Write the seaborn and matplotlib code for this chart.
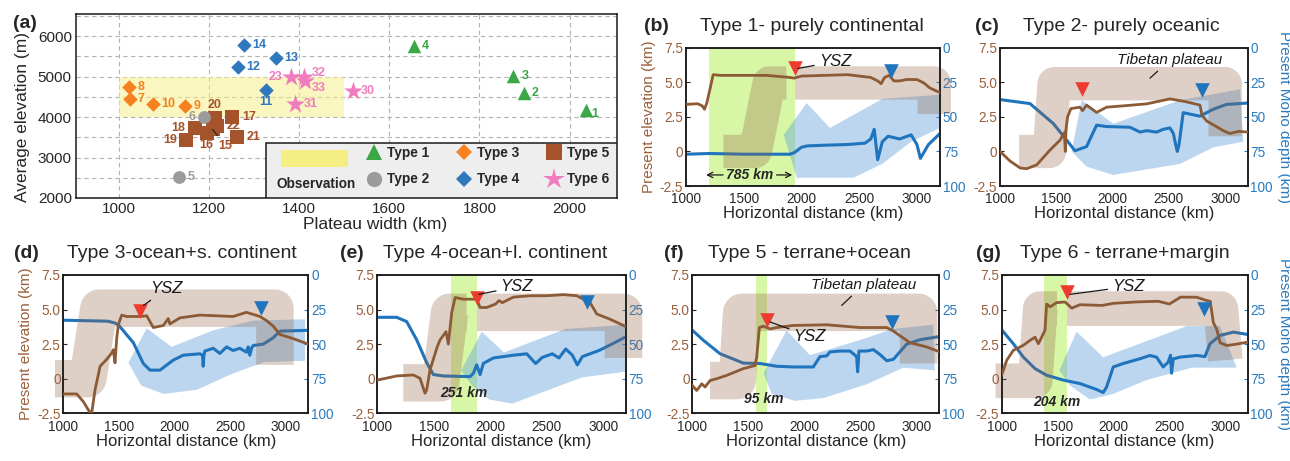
import matplotlib
matplotlib.use("Agg")
import matplotlib.pyplot as plt
import pandas as pd
import seaborn as sns
from matplotlib.lines import Line2D
from matplotlib.patches import Rectangle
from matplotlib.path import Path
from matplotlib import font_manager as fm

# ======================= Panel (a) data =======================
TYPE_NAMES = ["Type 1", "Type 2", "Type 3", "Type 4", "Type 5", "Type 6"]
T1_ID = [1, 2, 3, 4]
T1_W = [2036, 1898, 1875, 1654]
T1_H = [4186, 4600, 5010, 5770]
T2_ID = [5, 6]
T2_W = [1134, 1189]
T2_H = [2520, 4005]
T3_ID = [7, 8, 9, 10]
T3_W = [1024, 1023, 1147, 1075]
T3_H = [4450, 4748, 4285, 4327]
T4_ID = [11, 12, 13, 14]
T4_W = [1326, 1265, 1349, 1278]
T4_H = [4680, 5233, 5465, 5777]
T5_ID = [15, 16, 17, 18, 19, 20, 21, 22]
T5_W = [1208, 1195, 1252, 1169, 1150, 1213, 1262, 1217]
T5_H = [3700, 3609, 4005, 3733, 3443, 3980, 3510, 3790]
T6_ID = [23, 30, 31, 32, 33]
T6_W = [1382, 1519, 1391, 1410, 1413]
T6_H = [4985, 4640, 4334, 4995, 4890]
OBS_WIDTH = [1000, 1500]
OBS_ELEV = [4000, 5000]

# ======================= Profile data =======================
# (b) Type 1
B_ELEV_X = [1000, 1100, 1140, 1160, 1180, 1210, 1235, 1300, 1500, 1700, 1900, 1935, 2000, 2200, 2400, 2500,
            2600, 2660, 2690, 2720, 2760, 2800, 2850, 2910, 3000, 3060, 3110, 3200]
B_ELEV_Y = [3.4, 3.45, 3.3, 3.05, 3.5, 4.6, 5.55, 5.5, 5.5, 5.5, 5.35, 5.3, 5.45, 5.5, 5.55, 5.45,
            5.35, 5.1, 4.9, 5.35, 5.5, 5.1, 5.1, 5.2, 5.2, 4.95, 4.6, 4.25]
B_MOHO_X = [1000, 1200, 1500, 1700, 1900, 1935, 2000, 2050, 2200, 2400, 2550, 2600, 2630, 2660, 2700,
            2750, 2850, 2950, 3000, 3030, 3100, 3200]
B_MOHO_D = [77, 76.5, 77, 77, 77, 76, 72, 71, 70.5, 70, 69, 66, 59, 81, 68, 64, 66, 63, 70, 80, 70, 62]
B_PLAT_X = [1323, 1600, 1720, 3150, 3150]
B_PLAT_Y = [0.0, 0.0, 4.95, 4.95, 2.7]
B_ENV_X = [1846, 2045, 2247, 2700, 3200, 3200, 2950, 2700, 2450, 1959]
B_ENV_D = [63, 40, 58, 37, 34, 58, 68, 84, 94, 94]
B_STRIP = [1202, 1944]
B_YSZ = [1944, 6.0]
B_BTRI = [2778, 5.8]

# (c) Type 2
C_ELEV_X = [1000, 1090, 1180, 1237, 1326, 1444, 1533, 1572, 1580, 1585, 1600, 1630, 1710, 1733, 1769,
            1858, 1947, 2100, 2302, 2509, 2650, 2776, 2795, 2836, 2900, 2983, 3042, 3120, 3200]
C_ELEV_Y = [0.0, -0.7, -1.2, -1.25, -0.97, 0.1, 0.82, 1.35, 0.0, 1.5, 2.5, 3.1, 3.2, 2.95, 3.35,
            2.82, 3.2, 3.3, 3.44, 3.8, 3.6, 3.35, 2.6, 2.2, 1.9, 1.5, 1.3, 1.45, 1.4]
C_MOHO_X = [1000, 1266, 1473, 1592, 1666, 1769, 1858, 1947, 2154, 2243, 2302, 2391, 2450, 2509, 2540,
            2560, 2575, 2590, 2627, 2776, 2894, 3012, 3200]
C_MOHO_D = [37.5, 40.4, 54.8, 66.8, 74.5, 71.5, 56, 57, 57.5, 61, 60, 61, 59, 58, 62, 70, 75, 70, 47,
            49.5, 44.5, 41, 40]
C_PLAT_X = [1170, 1440, 1480, 3000, 3000]
C_PLAT_Y = [0.0, 0.0, 4.9, 4.9, 1.1]
C_ENV_X = [1636, 1726, 2006, 2600, 3132, 3160, 2895, 2600, 2006, 1769]
C_ENV_D = [75, 38, 55, 38, 30, 68, 72, 84, 92, 86]
C_YSZ = [1726, 4.5]
C_BTRI = [2790, 4.45]

# (d) Type 3
D_ELEV_X = [1000, 1120, 1180, 1234, 1255, 1285, 1330, 1389, 1434, 1449, 1464, 1479, 1494, 1524, 1569,
            1689, 1749, 1808, 1898, 1942, 1957, 2047, 2226, 2525, 2645, 2765, 2825, 2885, 2945, 3064, 3200]
D_ELEV_Y = [-1.1, -1.1, -1.66, -2.38, -2.45, -0.8, 0.9, 1.4, 1.85, 2.1, 1.15, 2.9, 3.9, 4.6, 4.5,
            4.5, 4.55, 3.7, 3.85, 4.35, 3.96, 4.4, 4.6, 4.5, 4.8, 4.5, 4.2, 3.8, 3.2, 2.9, 2.5]
D_MOHO_X = [1000, 1397, 1459, 1494, 1629, 1718, 1778, 1868, 1988, 2077, 2226, 2250, 2256, 2262, 2271,
            2346, 2406, 2466, 2525, 2585, 2645, 2660, 2675, 2690, 2705, 2795, 2885, 2945, 3200]
D_MOHO_D = [32.7, 33.4, 34.6, 36, 49, 64, 68.8, 68.8, 61.5, 58, 57, 58, 66, 58, 55, 53, 56.7, 52,
            54.6, 53, 55.8, 52, 58, 53, 51, 50, 45.4, 40.6, 40]
D_PLAT_X = [925, 1220, 1320, 2900, 2900]
D_PLAT_Y = [0.0, 0.0, 5.1, 5.1, 1.0]
D_ENV_X = [1584, 1749, 1972, 2346, 2705, 3170, 3170, 2800, 2500, 2200, 1900, 1700]
D_ENV_D = [63.5, 38.5, 52, 40, 33, 32, 62, 63, 72, 83, 86, 80]
D_YSZ = [1691, 4.92]
D_BTRI = [2772, 5.1]

# (e) Type 4
E_ELEV_X = [1000, 1172, 1319, 1378, 1422, 1437, 1467, 1531, 1555, 1608, 1629, 1659, 1689, 1762, 1880,
            1910, 1968, 2048, 2077, 2107, 2205, 2353, 2500, 2648, 2766, 2884, 2943, 3061, 3193]
E_ELEV_Y = [-0.1, 0.2, 0.27, 0.03, -1.05, -0.8, 0.65, 2.32, 2.8, 3.4, 2.5, 4.8, 5.87, 5.75, 5.75,
            5.15, 5.15, 5.4, 5.65, 5.5, 5.9, 6.0, 6.0, 6.08, 6.0, 5.5, 4.68, 4.3, 3.8]
E_MOHO_X = [1000, 1172, 1260, 1349, 1437, 1496, 1585, 1821, 1851, 1880, 1910, 1939, 2028, 2205, 2323,
            2402, 2461, 2549, 2609, 2668, 2727, 2771, 2816, 2963, 3110, 3193]
E_MOHO_D = [30.6, 30.6, 33.7, 47, 63.4, 72, 73, 73.5, 71, 65, 72, 63.9, 60, 58, 57, 64, 59.6, 57, 60,
            53.5, 58, 65, 59, 54.6, 48.6, 45]
E_PLAT_X = [1230, 1560, 1640, 3180, 3180]
E_PLAT_Y = [-0.3, -0.3, 4.8, 4.8, 1.5]
E_ENV_X = [1742, 1925, 2122, 2668, 3193, 3193, 2816, 2520, 2195, 1990, 1840]
E_ENV_D = [69, 41, 56, 39, 36, 70, 74, 83, 93, 90, 80]
E_STRIP = [1650, 1880]
E_YSZ = [1880, 5.82]
E_BTRI = [2860, 5.57]

# (f) Type 5
F_ELEV_X = [1000, 1039, 1084, 1113, 1158, 1217, 1306, 1454, 1558, 1573, 1597, 1632, 1692, 1751, 1899,
            2196, 2493, 2731, 2790, 2850, 2939, 3087, 3200]
F_ELEV_Y = [-0.49, -0.85, -0.37, -0.6, -0.13, 0.0, 0.24, 0.73, 0.95, 1.55, 3.7, 3.8, 3.6, 3.7, 3.85,
            3.9, 3.7, 3.7, 3.45, 3.1, 2.6, 2.3, 1.95]
F_MOHO_X = [1000, 1098, 1246, 1454, 1603, 1751, 1899, 2077, 2137, 2196, 2226, 2315, 2404, 2463, 2472,
            2484, 2552, 2612, 2671, 2731, 2790, 2909, 3028, 3200]
F_MOHO_D = [40, 47.2, 56.9, 63.7, 64, 66, 66.5, 66.5, 59, 58.5, 55.6, 55, 55, 59, 70, 55, 55, 54, 57.5,
            62, 61, 50, 46.8, 44.5]
F_PLAT_X = [1158, 1400, 1440, 3015, 3015]
F_PLAT_Y = [-0.13, -0.13, 4.8, 4.8, 1.1]
F_ENV_X = [1635, 1840, 2048, 2493, 2790, 3146, 3160, 2880, 2553, 2167, 1914, 1706]
F_ENV_D = [71, 40, 58, 47, 39, 36, 69, 67, 79, 89, 91, 86]
F_STRIP = [1567, 1668]
F_YSZ = [1668, 4.28]
F_BTRI = [2781, 4.11]

# (g) Type 6
G_ELEV_X = [1000, 1045, 1104, 1193, 1253, 1298, 1328, 1357, 1387, 1402, 1432, 1492, 1566, 1587, 1626,
            1700, 1900, 2000, 2200, 2400, 2500, 2600, 2744, 2834, 2865, 2893, 2923, 2953, 3013, 3102, 3200]
G_ELEV_Y = [0.26, 1.33, 2.05, 2.41, 2.77, 3.0, 2.53, 3.0, 3.5, 5.4, 5.2, 5.5, 5.55, 5.4, 5.1,
            5.35, 5.3, 5.45, 5.55, 5.6, 5.4, 5.9, 5.89, 5.65, 5.6, 4.05, 3.58, 2.6, 2.4, 2.5, 2.65]
G_MOHO_X = [1000, 1104, 1193, 1298, 1402, 1551, 1700, 1849, 1908, 1938, 1998, 2087, 2236, 2325, 2385,
            2444, 2489, 2510, 2519, 2534, 2593, 2744, 2818, 2863, 2953, 3072, 3200]
G_MOHO_D = [39.6, 49.7, 59.3, 67.7, 72.5, 76, 78.5, 82.8, 85, 81, 66.5, 64, 60.6, 58.2, 59.4, 66.5, 63,
            58, 71, 60.7, 59.4, 58.2, 59, 49.7, 43.7, 41.3, 43]
G_PLAT_X = [945, 1300, 1345, 2960, 3000]
G_PLAT_Y = [-0.15, -0.15, 5.07, 5.07, 1.35]
G_ENV_X = [1516, 1670, 1908, 2654, 2953, 3102, 2700, 2295, 1998, 1789, 1611]
G_ENV_D = [69, 41, 59.5, 37, 37, 67, 67, 76, 86, 90, 80]
G_STRIP = [1381, 1587]
G_YSZ = [1587, 6.25]
G_BTRI = [2810, 5.05]

X_TICKS = [1000, 1500, 2000, 2500, 3000]
ELEV_TICKS = [-2.5, 0, 2.5, 5.0, 7.5]
ELEV_TICKLABELS = ["-2.5", "0", "2.5", "5.0", "7.5"]
MOHO_TICKS = [0, 25, 50, 75, 100]

# ======================= Styling =======================
sns.set_theme(context="paper", style="white")
plt.rcParams["font.family"] = ["Liberation Sans", "DejaVu Sans"]
plt.rcParams["axes.edgecolor"] = "#1a1a1a"
plt.rcParams["axes.linewidth"] = 1.1

try:
    fm.findfont(fm.FontProperties(family="Liberation Sans Narrow"), fallback_to_default=False)
    NARROW, NSIZE = "Liberation Sans Narrow", 11.5
except Exception:
    NARROW, NSIZE = "Liberation Sans", 9.8

BROWN_LINE = "#8c5a35"
BROWN_TXT = "#9b5f3a"
BLUE_LINE = "#1f74bd"
BLUE_TXT = "#2a7bbf"
PLAT_C = "#946448"
PLAT_A = 0.30
ENV_C = "#5d9fd8"
STRIP_C = "#d8f7a6"
RED_TRI = "#ee3b2f"

fig = plt.figure(figsize=(12.9, 4.61), dpi=100)

# ======================= Panel (a) =======================
axa = fig.add_axes([0.0589, 0.5705, 0.4194, 0.3991])
axa.set_xlim(905, 2105)
axa.set_ylim(2000, 6550)
axa.fill_between(OBS_WIDTH, OBS_ELEV[0], OBS_ELEV[1], color="#f7ef8c", alpha=0.55, lw=0, zorder=1)

type_specs = [
    ("Type 5", T5_ID, T5_W, T5_H, "s", "#a5532a", 105, 11.5),
    ("Type 1", T1_ID, T1_W, T1_H, "^", "#3aa845", 95, 11),
    ("Type 2", T2_ID, T2_W, T2_H, "o", "#9b9b9b", 85, 11),
    ("Type 3", T3_ID, T3_W, T3_H, "D", "#f5821f", 55, 8.5),
    ("Type 4", T4_ID, T4_W, T4_H, "D", "#2f78be", 55, 8.5),
    ("Type 6", T6_ID, T6_W, T6_H, "*", "#f07cbf", 200, 16),
]
LABEL_POS = {6: (-6, 0, "right"), 11: (0, -9, "center"), 20: (0, 9, "center"), 18: (-7, 0, "right"),
             19: (-7, 0, "right"), 16: (0, -9, "center"), 15: (9, -12, "center"), 23: (-6, 0, "right"),
             32: (6, 3, "left"), 33: (5, -5, "left"), 1: (4, -3, "left"), 17: (7, 0, "left"),
             21: (7, 0, "left"), 22: (7, 0, "left")}

handles = {}
for name, ids, ws, hs, mk, col, s, ms in type_specs:
    df = pd.DataFrame({"width": ws, "elev": hs, "id": ids})
    sns.scatterplot(data=df, x="width", y="elev", marker=mk, s=s, color=col, linewidth=0,
                    ax=axa, zorder=3, legend=False)
    for i, w, h in zip(ids, ws, hs):
        dx, dy, ha = LABEL_POS.get(i, (6, 0, "left"))
        kw = {}
        if i == 15:
            kw["arrowprops"] = dict(arrowstyle="-", color="#222222", lw=0.8, shrinkA=1, shrinkB=0)
        axa.annotate(str(i), (w, h), xytext=(dx, dy), textcoords="offset points", ha=ha, va="center",
                     fontsize=9, fontweight="bold", color=col, zorder=4, **kw)
    handles[name] = Line2D([], [], ls="", marker=mk, color=col, markersize=ms, markeredgewidth=0)

axa.set_xticks([1000, 1200, 1400, 1600, 1800, 2000])
axa.set_yticks([2000, 3000, 4000, 5000, 6000])
axa.set_yticks([2500, 3500, 4500, 5500, 6500], minor=True)
axa.grid(True, which="both", ls=(0, (4, 3)), color="#b3b3b3", lw=0.8, zorder=0)
axa.set_axisbelow(True)
axa.tick_params(axis="both", which="both", direction="in", labelsize=11, pad=3, length=3)
axa.set_xlabel("Plateau width (km)", fontsize=12.5)
axa.xaxis.set_label_coords(0.553, -0.105)
axa.set_ylabel("Average elevation (m)", fontsize=12.5)
axa.yaxis.set_label_coords(-0.085, 0.44)
axa.text(-0.094, 0.946, "(a)", transform=axa.transAxes, fontsize=14, fontweight="bold",
         ha="center", va="center")

# legend box
axa.add_patch(Rectangle((0.351, 0.0), 0.649, 0.297, transform=axa.transAxes, facecolor="#eeeeee",
                        edgecolor="#1a1a1a", lw=1.1, zorder=6))
axa.add_patch(Rectangle((0.379, 0.170), 0.123, 0.091, transform=axa.transAxes, facecolor="#f5ee82",
                        edgecolor="none", zorder=7))
axa.text(0.37, 0.074, "Observation", transform=axa.transAxes, fontsize=9.8, fontweight="bold",
         va="center", ha="left", zorder=7)
order = ["Type 1", "Type 2", "Type 3", "Type 4", "Type 5", "Type 6"]
leg = axa.legend([handles[k] for k in order], order, ncol=3, loc="upper left",
                 bbox_to_anchor=(0.538, 0.285), frameon=False, prop={"size": 9.8, "weight": "bold"},
                 handlelength=1.0, handletextpad=0.5, columnspacing=2.0, labelspacing=0.95,
                 borderpad=0, borderaxespad=0)
leg.set_zorder(10)

# ======================= Profile panels =======================
panels = [
    dict(rect=[0.5318, 0.5965, 0.1969, 0.300], letter="(b)", title="Type 1- purely continental",
         lx=-0.115, tx=0.055, ex=B_ELEV_X, ey=B_ELEV_Y, mx=B_MOHO_X, md=B_MOHO_D, px=B_PLAT_X, py=B_PLAT_Y,
         vx=B_ENV_X, vd=B_ENV_D, strip=B_STRIP, hide=True, lw=24, ysz=B_YSZ, btri=B_BTRI,
         notes=[("YSZ", 2290, 6.5, 1970, 6.0, 12)], left=True, right=False),
    dict(rect=[0.7752, 0.5965, 0.1920, 0.300], letter="(c)", title="Type 2- purely oceanic",
         lx=-0.052, tx=0.093, ex=C_ELEV_X, ey=C_ELEV_Y, mx=C_MOHO_X, md=C_MOHO_D, px=C_PLAT_X, py=C_PLAT_Y,
         vx=C_ENV_X, vd=C_ENV_D, strip=None, hide=False, lw=24, ysz=C_YSZ, btri=C_BTRI,
         notes=[("Tibetan plateau", 2510, 6.6, 2332, 5.3, 11)], left=False, right=True),
    dict(rect=[0.0491, 0.1035, 0.1899, 0.300], letter="(d)", title="Type 3-ocean+s. continent",
         lx=-0.149, tx=0.014, ex=D_ELEV_X, ey=D_ELEV_Y, mx=D_MOHO_X, md=D_MOHO_D, px=D_PLAT_X, py=D_PLAT_Y,
         vx=D_ENV_X, vd=D_ENV_D, strip=None, hide=False, lw=27, ysz=D_YSZ, btri=D_BTRI,
         notes=[("YSZ", 1928, 6.5, 1720, 5.3, 12)], left=True, right=False),
    dict(rect=[0.2925, 0.1035, 0.1926, 0.300], letter="(e)", title="Type 4-ocean+l. continent",
         lx=-0.103, tx=0.024, ex=E_ELEV_X, ey=E_ELEV_Y, mx=E_MOHO_X, md=E_MOHO_D, px=E_PLAT_X, py=E_PLAT_Y,
         vx=E_ENV_X, vd=E_ENV_D, strip=E_STRIP, hide=True, lw=27, ysz=E_YSZ, btri=E_BTRI,
         notes=[("YSZ", 2235, 6.65, 1900, 6.1, 12)], left=False, right=False),
    dict(rect=[0.5367, 0.1035, 0.1915, 0.300], letter="(f)", title="Type 5 - terrane+ocean",
         lx=-0.077, tx=0.065, ex=F_ELEV_X, ey=F_ELEV_Y, mx=F_MOHO_X, md=F_MOHO_D, px=F_PLAT_X, py=F_PLAT_Y,
         vx=F_ENV_X, vd=F_ENV_D, strip=F_STRIP, hide=False, lw=27, ysz=F_YSZ, btri=F_BTRI,
         notes=[("Tibetan plateau", 2523, 6.77, 2330, 5.3, 11), ("YSZ", 2045, 3.07, 1692, 4.1, 12)],
         left=False, right=False),
    dict(rect=[0.7765, 0.1035, 0.1907, 0.300], letter="(g)", title="Type 6 - terrane+margin",
         lx=-0.052, tx=0.074, ex=G_ELEV_X, ey=G_ELEV_Y, mx=G_MOHO_X, md=G_MOHO_D, px=G_PLAT_X, py=G_PLAT_Y,
         vx=G_ENV_X, vd=G_ENV_D, strip=G_STRIP, hide=True, lw=25, ysz=G_YSZ, btri=G_BTRI,
         notes=[("YSZ", 2133, 6.66, 1611, 6.1, 12)], left=False, right=True),
]
STRIP_LABELS = {"(e)": ("251 km", 1768, -1.05), "(f)": ("95 km", 1632, -1.45), "(g)": ("204 km", 1492, -1.67)}


def rect_path(x0, x1, y0=-20.0, y1=30.0):
    return Path([(x0, y0), (x1, y0), (x1, y1), (x0, y1), (x0, y0)],
                [Path.MOVETO, Path.LINETO, Path.LINETO, Path.LINETO, Path.CLOSEPOLY])


def envelope(ax, xs, ys, lw):
    sns.lineplot(x=xs, y=ys, ax=ax, sort=False, estimator=None, color=PLAT_C, alpha=PLAT_A,
                 linewidth=lw, solid_joinstyle="round", solid_capstyle="butt", clip_on=False, zorder=2)
    return ax.lines[-1]


for p in panels:
    ax = fig.add_axes(p["rect"])
    ax2 = ax.twinx()
    ax.set_zorder(ax2.get_zorder() + 1)
    ax.patch.set_visible(False)
    ax.set_xlim(1000, 3200)
    ax.set_ylim(-2.5, 7.5)
    ax2.set_ylim(100, 0)

    if p["strip"] is not None:
        ax2.axvspan(p["strip"][0], p["strip"][1], color=STRIP_C, lw=0, zorder=0.5)

    line = envelope(ax, p["px"], p["py"], p["lw"])
    if p["hide"]:
        s0, s1 = p["strip"]
        outside = Path.make_compound_path(rect_path(-5000, s0), rect_path(s1, 9000))
        line.set_clip_on(True)
        line.set_clip_box(None)
        line.set_clip_path(outside, ax.transData)
        cx, cy = p["px"][2], p["py"][2]
        piece = envelope(ax, p["px"][:3] + [cx + 150], p["py"][:3] + [cy], p["lw"])
        piece.set_clip_on(True)
        piece.set_clip_box(None)
        piece.set_clip_path(rect_path(s0, s1), ax.transData)

    ax2.fill(p["vx"], p["vd"], color=ENV_C, alpha=0.42, lw=0, zorder=1)
    sns.lineplot(x=p["mx"], y=p["md"], ax=ax2, color=BLUE_LINE, linewidth=2.2, estimator=None, zorder=3)
    sns.lineplot(x=p["ex"], y=p["ey"], ax=ax, color=BROWN_LINE, linewidth=2.0, estimator=None, zorder=4)
    sns.scatterplot(x=[p["ysz"][0]], y=[p["ysz"][1]], ax=ax, marker="v", s=110, color=RED_TRI,
                    linewidth=0, zorder=6, legend=False)
    sns.scatterplot(x=[p["btri"][0]], y=[p["btri"][1]], ax=ax, marker="v", s=110, color=BLUE_LINE,
                    linewidth=0, zorder=6, legend=False)
    for txt, tx, ty, qx, qy, fs in p["notes"]:
        ax.annotate(txt, xy=(qx, qy), xytext=(tx, ty), ha="center", va="center", fontsize=fs,
                    style="italic", color="#1a1a1a", zorder=7,
                    arrowprops=dict(arrowstyle="-", color="#1a1a1a", lw=0.9, shrinkA=1, shrinkB=0))
    if p["letter"] == "(b)":
        ax.text(1554, -1.7, "785 km", ha="center", va="center", fontsize=10, fontweight="bold",
                style="italic", zorder=7)
        ax.annotate("", xy=(1150, -1.7), xytext=(1345, -1.7),
                    arrowprops=dict(arrowstyle="->", color="#1a1a1a", lw=0.9), zorder=7)
        ax.annotate("", xy=(1944, -1.7), xytext=(1760, -1.7),
                    arrowprops=dict(arrowstyle="->", color="#1a1a1a", lw=0.9), zorder=7)
    if p["letter"] in STRIP_LABELS:
        t, sx, sy = STRIP_LABELS[p["letter"]]
        ax.text(sx, sy, t, ha="center", va="center", fontsize=10, fontweight="bold", style="italic", zorder=7)

    ax.set_xticks(X_TICKS)
    ax.set_xticklabels([str(v) for v in X_TICKS], fontfamily=NARROW, fontsize=NSIZE)
    ax.set_yticks(ELEV_TICKS)
    ax.set_yticklabels(ELEV_TICKLABELS, fontfamily=NARROW, fontsize=NSIZE, color=BROWN_TXT)
    ax2.set_yticks(MOHO_TICKS)
    ax2.set_yticklabels([str(v) for v in MOHO_TICKS], fontfamily=NARROW, fontsize=NSIZE, color=BLUE_TXT)
    ax.tick_params(axis="x", direction="in", length=3, width=0.8, pad=4.5)
    ax.tick_params(axis="y", direction="in", length=3, width=0.8, pad=2)
    ax2.tick_params(axis="y", direction="in", length=3, width=0.8, pad=2, colors=BLUE_TXT)
    ax.set_xlabel("Horizontal distance (km)", fontsize=12, labelpad=0)
    ax.set_ylabel("Present elevation (km)" if p["left"] else "", fontsize=11, color=BROWN_TXT, labelpad=3)
    if p["right"]:
        ax2.set_ylabel("Present Moho depth (km)", fontsize=11, color=BLUE_TXT, rotation=-90,
                       va="bottom", labelpad=3)
    else:
        ax2.set_ylabel("")
    ax.text(p["lx"], 1.155, p["letter"], transform=ax.transAxes, fontsize=14, fontweight="bold",
            ha="center", va="center")
    ax.text(p["tx"], 1.155, p["title"], transform=ax.transAxes, fontsize=14, ha="left", va="center")

fig.savefig("out.png", dpi=100)
